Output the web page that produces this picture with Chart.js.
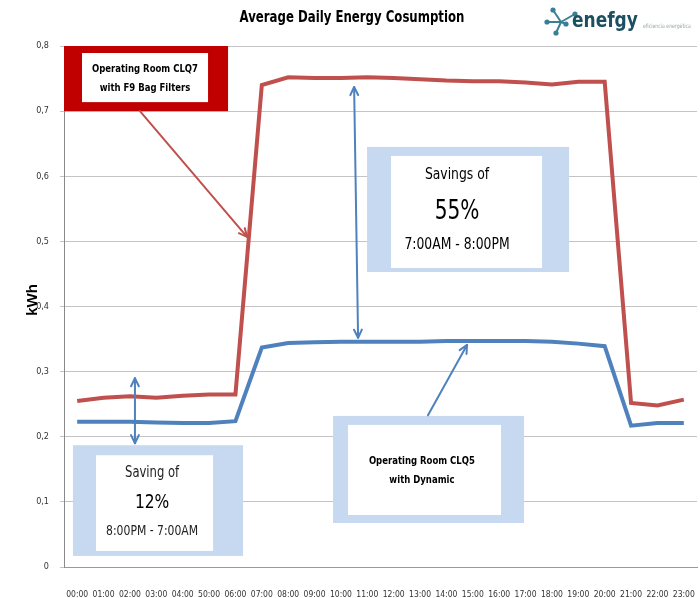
<!DOCTYPE html>
<html>
<head>
<meta charset="utf-8">
<title>Average Daily Energy Cosumption</title>
<script src="https://cdn.jsdelivr.net/npm/chart.js@4.4.1/dist/chart.umd.min.js"></script>
<style>
  html, body { margin: 0; padding: 0; background: #fff; }
  #wrap { width: 700px; height: 598px; }
</style>
</head>
<body>
<div id="wrap"><canvas id="energiaChart"></canvas></div>
<script>
// datos (kWh por hora)
const horas = ["00:00", "01:00", "02:00", "03:00", "04:00", "50:00", "06:00", "07:00", "08:00", "09:00", "10:00", "11:00",
               "12:00", "13:00", "14:00", "15:00", "16:00", "17:00", "18:00", "19:00", "20:00", "21:00", "22:00", "23:00"];
const consumoCLQ7 = [0.255, 0.260, 0.262, 0.260, 0.263, 0.265, 0.265, 0.740, 0.752, 0.751, 0.751, 0.752,
                     0.751, 0.749, 0.747, 0.746, 0.746, 0.744, 0.741, 0.745, 0.745, 0.252, 0.248, 0.257];
const consumoCLQ5 = [0.223, 0.223, 0.223, 0.222, 0.221, 0.221, 0.224, 0.337, 0.344, 0.345, 0.346, 0.346,
                     0.346, 0.346, 0.347, 0.347, 0.347, 0.347, 0.346, 0.343, 0.339, 0.217, 0.221, 0.221];

const NARROW = "'DejaVu Sans Condensed', 'Liberation Sans Narrow', sans-serif";
const ROJO = "#c0504d";
const AZUL = "#4f81bd";
const AZUL_CLARO = "#c6d9f0";

// texto estrechado a mano (no hay Calibri)
function textoAngosto(ctx, str, x, y, font, color, k, align) {
    ctx.save();
    ctx.font = font;
    ctx.fillStyle = color || "#000";
    ctx.textAlign = align || "center";
    ctx.textBaseline = "middle";
    ctx.translate(x, y);
    ctx.scale(k || 0.86, 1);
    ctx.fillText(str, 0, 0);
    ctx.restore();
}

// titulo, logo, etiqueta del eje y cajas con flechas
const anotaciones = {
    id: "anotaciones",
    afterDraw(chart) {
        const ctx = chart.ctx;
        const sx = chart.scales.x, sy = chart.scales.y;
        const px = i => sx.getPixelForValue(i);
        const py = v => sy.getPixelForValue(v);

        function caja(i0, i1, v0, v1, borde, color) {
            const x0 = px(i0), x1 = px(i1), y0 = py(v1), y1 = py(v0);
            ctx.fillStyle = color;
            ctx.fillRect(x0, y0, x1 - x0, y1 - y0);
            ctx.fillStyle = "#fff";
            ctx.fillRect(x0 + borde[3], y0 + borde[0], x1 - x0 - borde[1] - borde[3], y1 - y0 - borde[0] - borde[2]);
        }

        function texto(str, i, v, font, color) {
            textoAngosto(ctx, str, px(i), py(v), font, color, 0.86);
        }

        function punta(xa, ya, xb, yb) {
            const ang = Math.atan2(yb - ya, xb - xa);
            const largo = 9;
            ctx.beginPath();
            ctx.moveTo(xb - largo * Math.cos(ang - 0.45), yb - largo * Math.sin(ang - 0.45));
            ctx.lineTo(xb, yb);
            ctx.lineTo(xb - largo * Math.cos(ang + 0.45), yb - largo * Math.sin(ang + 0.45));
            ctx.stroke();
        }

        function flecha(i0, v0, i1, v1, color, doble) {
            const xa = px(i0), ya = py(v0), xb = px(i1), yb = py(v1);
            ctx.save();
            ctx.strokeStyle = color;
            ctx.lineWidth = 2;
            ctx.lineCap = "round";
            ctx.lineJoin = "round";
            ctx.beginPath();
            ctx.moveTo(xa, ya);
            ctx.lineTo(xb, yb);
            ctx.stroke();
            punta(xa, ya, xb, yb);
            if (doble) punta(xb, yb, xa, ya);
            ctx.restore();
        }

        ctx.save();

        // caja roja CLQ7
        caja(-0.5, 5.72, 0.7, 0.8, [7, 20, 9, 18], "#c00000");
        texto("Operating Room CLQ7", 2.57, 0.765, "bold 11px " + NARROW);
        texto("with F9 Bag Filters", 2.57, 0.736, "bold 11px " + NARROW);
        flecha(2.38, 0.7, 6.44, 0.507, ROJO, false);

        // ahorro 55%
        caja(10.99, 18.65, 0.453, 0.645, [9, 27, 4, 24], AZUL_CLARO);
        texto("Savings of", 14.4, 0.602, "16px " + NARROW);
        texto("55%", 14.4, 0.545, "26px " + NARROW);
        texto("7:00AM - 8:00PM", 14.4, 0.494, "16px " + NARROW);
        flecha(10.5, 0.737, 10.65, 0.352, AZUL, true);

        // ahorro 12%
        caja(-0.16, 6.29, 0.017, 0.187, [10, 30, 5, 23], AZUL_CLARO);
        texto("Saving of", 2.84, 0.144, "15px " + NARROW, "#222");
        texto("12%", 2.84, 0.098, "20px " + NARROW);
        texto("8:00PM - 7:00AM", 2.84, 0.054, "14px " + NARROW, "#222");
        flecha(2.19, 0.29, 2.19, 0.19, AZUL, true);

        // caja CLQ5
        caja(9.7, 16.94, 0.0676, 0.232, [9, 23, 8, 15], AZUL_CLARO);
        texto("Operating Room CLQ5", 13.07, 0.163, "bold 11px " + NARROW);
        texto("with Dynamic", 13.07, 0.134, "bold 11px " + NARROW);
        flecha(13.3, 0.233, 14.78, 0.341, AZUL, false);

        // titulo
        textoAngosto(ctx, "Average Daily Energy Cosumption", 352, 18, "bold 15px " + NARROW, "#000", 0.87);

        // etiqueta eje y
        ctx.save();
        ctx.translate(33, 300);
        ctx.rotate(-Math.PI / 2);
        ctx.fillStyle = "#000";
        ctx.textAlign = "center";
        ctx.textBaseline = "middle";
        ctx.font = "bold 15px 'Liberation Sans', Arial, sans-serif";
        ctx.fillText("kWh", 0, 0);
        ctx.restore();

        // logo enefgy
        ctx.strokeStyle = "#3a7f95";
        ctx.fillStyle = "#3a7f95";
        ctx.lineWidth = 2;
        const nodos = [[553, 10], [547, 22], [556, 33], [566, 24], [575, 14]];
        ctx.beginPath();
        nodos.forEach(n => { ctx.moveTo(561, 22); ctx.lineTo(n[0], n[1]); });
        ctx.stroke();
        nodos.forEach(n => { ctx.beginPath(); ctx.arc(n[0], n[1], 2.6, 0, Math.PI * 2); ctx.fill(); });
        textoAngosto(ctx, "enefgy", 572, 22, "bold 21px " + NARROW, "#1d4f62", 0.9, "left");
        textoAngosto(ctx, "eficiencia energética", 643, 26, "6px " + NARROW, "#9aa7ab", 0.85, "left");

        ctx.restore();
    }
};

document.addEventListener("DOMContentLoaded", function() {
    const ctx = document.getElementById("energiaChart").getContext("2d");

    new Chart(ctx, {
        type: "line",
        data: {
            labels: horas,
            datasets: [{
                label: "Operating Room CLQ7",
                data: consumoCLQ7,
                borderColor: ROJO,
                borderWidth: 4,
                pointRadius: 0,
                tension: 0
            }, {
                label: "Operating Room CLQ5",
                data: consumoCLQ5,
                borderColor: AZUL,
                borderWidth: 4,
                pointRadius: 0,
                tension: 0
            }]
        },
        options: {
            responsive: true,
            maintainAspectRatio: false,
            animation: false,
            layout: { padding: { top: 46, right: 3, left: 0, bottom: 0 } },
            plugins: {
                legend: { display: false },
                tooltip: { enabled: false }
            },
            scales: {
                x: {
                    offset: true,
                    grid: { display: false },
                    border: { color: "#9a9a9a" },
                    ticks: {
                        autoSkip: false,
                        maxRotation: 0,
                        minRotation: 0,
                        padding: 15,
                        color: "#333",
                        font: { family: NARROW, size: 8.5 }
                    },
                    afterFit: s => { s.height = 31; s.paddingLeft = 0; s.paddingRight = 0; }
                },
                y: {
                    min: 0,
                    max: 0.8,
                    border: { color: "#8a8a8a" },
                    grid: { color: "#c4c4c4", tickLength: 4 },
                    ticks: {
                        stepSize: 0.1,
                        padding: 11,
                        color: "#333",
                        font: { family: NARROW, size: 9 },
                        callback: v => v === 0 ? "0" : v.toFixed(1).replace(".", ",")
                    },
                    afterFit: s => { s.width = 64; }
                }
            }
        },
        plugins: [anotaciones]
    });
});
</script>
</body>
</html>
